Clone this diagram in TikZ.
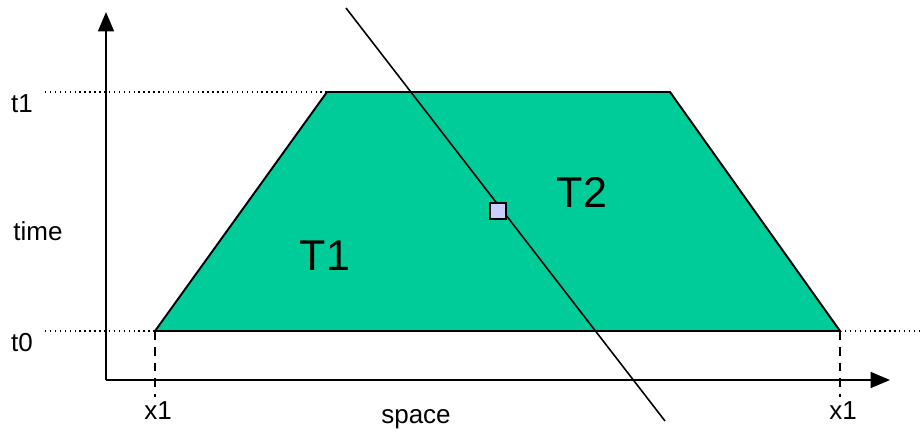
\documentclass[tikz,border=0pt]{standalone}
\usepackage{fontspec}
\setmainfont{Liberation Sans}
\usetikzlibrary{arrows.meta, positioning}
\definecolor{slabgreen}{RGB}{0,204,153}
\definecolor{probefill}{RGB}{204,204,255}
\tikzset{
  axis/.style={-{Triangle[length=11pt, width=9pt]}, line width=1.1pt},
  guide/.style={dotted, line width=0.8pt},
  foot/.style={dashed, dash pattern=on 5pt off 4pt, line width=1pt},
  slab/.style={fill=slabgreen, draw=black, line width=1.1pt},
  cut/.style={line width=0.9pt},
  probe/.style={rectangle, draw=black, fill=probefill, line width=1.1pt,
    minimum size=0.32cm, inner sep=0pt},
  lbl/.style={font=\fontsize{14.8}{16}\selectfont, inner sep=0pt},
  region/.style={font=\fontsize{24.5}{28}\selectfont, inner sep=0pt},
}
\begin{document}
\begin{tikzpicture}[x=0.02cm, y=-0.02cm]
  \useasboundingbox (0,0) rectangle (922,433);

  % corners of the slab
  \coordinate (bl) at (155,331);
  \coordinate (tl) at (327,92);
  \coordinate (tr) at (670,92);
  \coordinate (br) at (840,331);
  \coordinate (origin) at (106,380);

  % axis labels
  \node[lbl] (t1)    at (22,104)  {t1};
  \node[lbl] (tme)   at (38,231)  {time};
  \node[lbl] (t0)    at (22,343)  {t0};
  \node[lbl] (x1l)   at (158,411) {x1};
  \node[lbl] (spc)   at (416,419) {space};
  \node[lbl] (x1r)   at (843,411) {x1};

  % slab
  \draw[slab] (bl)--(tl)--(tr)--(br)--cycle;

  % guide lines
  \coordinate (t1end) at (45,92);
  \coordinate (t0end) at (45,331);
  \coordinate (t0far) at (922,331);
  \draw[guide] (t1end)--(tl);
  \draw[guide] (t0end)--(bl);
  \draw[guide] (br)--(t0far);
  \coordinate (x1lend) at (155,397);
  \coordinate (x1rend) at (840,397);
  \draw[foot] (bl)--(x1lend);
  \draw[foot] (br)--(x1rend);

  % axes
  \coordinate (ytip) at (106,12);
  \coordinate (xtip) at (890,380);
  \draw[axis] (origin)--(ytip);
  \draw[axis] (origin)--(xtip);

  % cutting line and probe
  \coordinate (ctop) at (346,8);
  \coordinate (cbot) at (665,421);
  \draw[cut] (ctop)--(cbot);
  \node[probe] (pr) at (498,211) {};

  % regions
  \node[region] (T1) at (325,256) {T1};
  \node[region] (T2) at (582,192) {T2};
\end{tikzpicture}
\end{document}
